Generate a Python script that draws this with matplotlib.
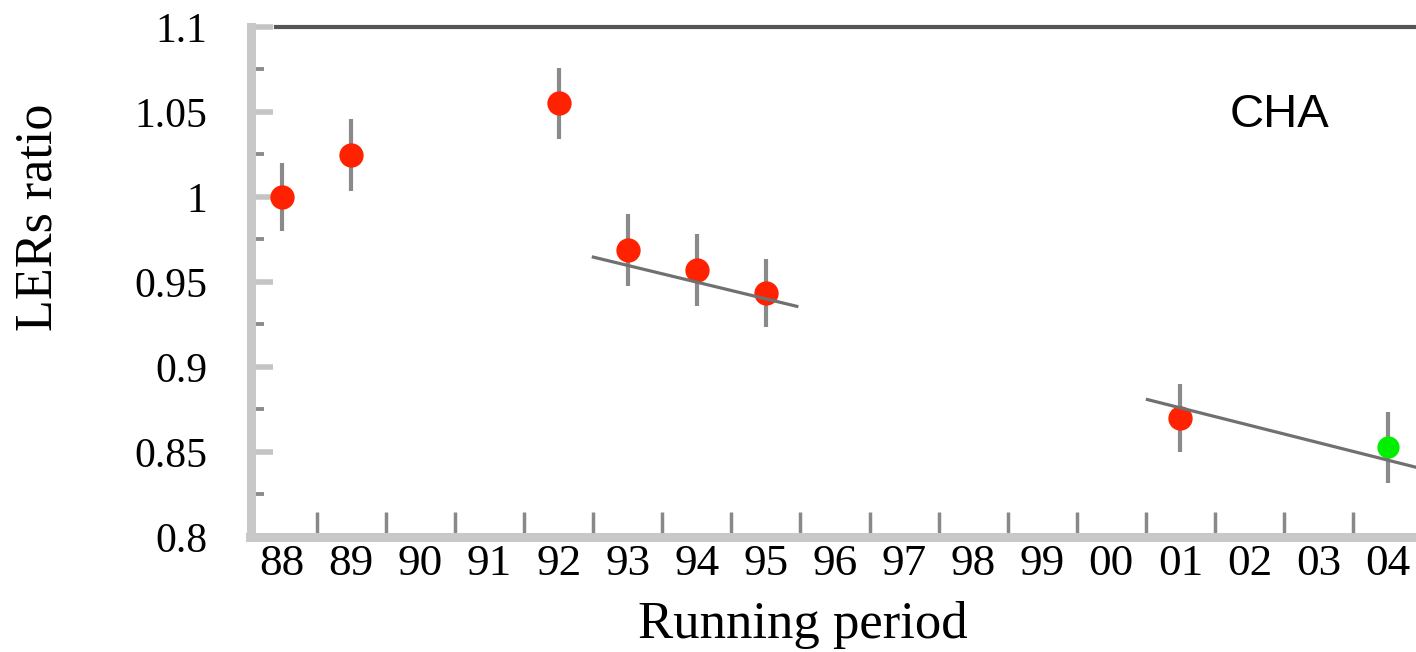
import matplotlib
matplotlib.use("Agg")
import matplotlib.pyplot as plt
from matplotlib.ticker import MultipleLocator, FixedLocator

# running periods shown on the x axis
periods = ["88", "89", "90", "91", "92", "93", "94", "95", "96",
           "97", "98", "99", "00", "01", "02", "03", "04"]

# measured LER ratios (red), last point highlighted (green)
red_periods = ["88", "89", "92", "93", "94", "95", "01"]
red_ratio = [1.000, 1.0247, 1.0551, 0.9687, 0.957, 0.9436, 0.870]
red_err = [0.020, 0.021, 0.021, 0.021, 0.021, 0.020, 0.020]

green_periods = ["04"]
green_ratio = [0.8526]
green_err = [0.021]

# straight-line fits drawn through the point groups
fit1_x = [4.48, 7.47]
fit1_y = [0.9648, 0.9354]
fit2_x = [12.5, 16.5]
fit2_y = [0.881, 0.840]

W, H = 1416, 652
fig = plt.figure(figsize=(W / 100, H / 100), dpi=100)
left = 250.5 / W
bottom = 1 - 536.8 / H
top = 1 - 27 / H
ax = fig.add_axes([left, bottom, 1 - left, top - bottom])

pos = {p: i for i, p in enumerate(periods)}
rx = [pos[p] for p in red_periods]
gx = [pos[p] for p in green_periods]

ax.errorbar(rx, red_ratio, yerr=red_err, fmt="none", ecolor="#8a8a8a",
            elinewidth=3, capsize=0, zorder=1)
ax.errorbar(gx, green_ratio, yerr=green_err, fmt="none", ecolor="#8a8a8a",
            elinewidth=3, capsize=0, zorder=1)
ax.plot(rx, red_ratio, "o", color="#ff2200", markersize=17.5, markeredgewidth=0, zorder=2)
ax.plot(gx, green_ratio, "o", color="#00ee00", markersize=16, markeredgewidth=0, zorder=2)
ax.plot(fit1_x, fit1_y, color="#707070", lw=2.3, zorder=3, solid_capstyle="butt")
ax.plot(fit2_x, fit2_y, color="#707070", lw=2.3, zorder=3, solid_capstyle="butt")

ax.set_xlim(-0.46, 16.41)
ax.set_ylim(0.8, 1.1)

serif = "Liberation Serif"

# x: labels at the centres, tick marks at the boundaries
ax.xaxis.set_major_locator(FixedLocator(range(len(periods))))
ax.set_xticklabels(periods, fontfamily=serif, fontsize=32.5)
ax.xaxis.set_minor_locator(FixedLocator([i + 0.5 for i in range(-1, len(periods))]))
ax.tick_params(axis="x", which="major", length=0, pad=5)
ax.tick_params(axis="x", which="minor", direction="in", length=18, width=2.5,
               color="#888888")

ax.yaxis.set_major_locator(MultipleLocator(0.05))
ax.yaxis.set_minor_locator(MultipleLocator(0.025))
ax.set_yticks([0.8, 0.85, 0.9, 0.95, 1.0, 1.05, 1.1])
ax.set_yticklabels(["0.8", "0.85", "0.9", "0.95", "1", "1.05", "1.1"],
                   fontfamily=serif, fontsize=30)
ax.tick_params(axis="y", which="major", direction="in", length=16, width=4,
               color="#c4c4c4", pad=31)
ax.tick_params(axis="y", which="minor", direction="in", length=9, width=2.8,
               color="#8c8c8c")

for s in ("left", "bottom"):
    ax.spines[s].set_color("#c8c8c8")
    ax.spines[s].set_linewidth(6.5)
ax.spines["right"].set_visible(False)
ax.spines["top"].set_color("#555555")
ax.spines["top"].set_linewidth(3)
ax.spines["top"].set_bounds(-0.09, 16.41)

fig.text(803 / W, 1 - 638 / H, "Running period", fontfamily=serif, fontsize=38,
         ha="center", va="baseline")
fig.text(52 / W, 1 - 217 / H, "LERs ratio", fontfamily=serif, fontsize=37.5,
         rotation=90, rotation_mode="anchor", ha="center", va="baseline")
fig.text(1280 / W, 1 - 127 / H, "CHA", fontfamily="Liberation Sans", fontsize=34,
         ha="center", va="baseline")

fig.savefig("out.png", dpi=100)
